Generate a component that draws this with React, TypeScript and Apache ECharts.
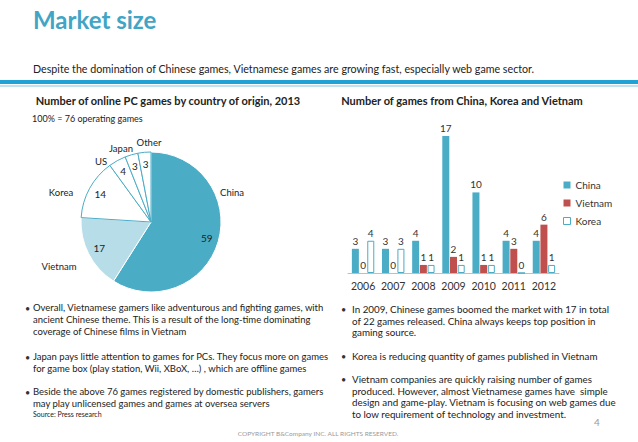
import React, { useEffect, useRef } from "react";
import * as echarts from "echarts";

const pieNames = ["China", "Vietnam", "Korea", "US", "Japan", "Other"];
const pieValues = [59, 17, 14, 4, 3, 3];

const years = ["2006", "2007", "2008", "2009", "2010", "2011", "2012"];
const chinaGames = [3, 3, 4, 17, 10, 4, 4];
const vietnamGames = [0, 0, 1, 2, 1, 3, 6];
const koreaGames = [4, 3, 1, 1, 1, 0, 1];

const titleText = "Market size";
const subtitleText =
  "Despite the domination of Chinese games, Vietnamese games are growing fast, especially web game sector.";
const pieTitle = "Number of online PC games by country of origin, 2013";
const barTitle = "Number of games from China, Korea and Vietnam";
const pieNote = "100% = 76 operating games";

const leftBullets = [
  [
    "Overall, Vietnamese gamers like adventurous and fighting games, with",
    "ancient Chinese theme. This is a result of the long-time dominating",
    "coverage of Chinese films in Vietnam",
  ],
  [
    "Japan pays little attention to games for PCs. They focus more on games",
    "for game box (play station, Wii, XBoX, …) , which are offline games",
  ],
  [
    "Beside the above 76 games registered by domestic publishers, gamers",
    "may play unlicensed games and games at oversea servers",
  ],
];
const sourceText = "Source: Press research";
const rightBullets = [
  [
    "In 2009, Chinese games boomed the market with 17 in total",
    "of 22 games released. China always keeps top position in",
    "gaming source.",
  ],
  ["Korea is reducing quantity of games published in Vietnam"],
  [
    "Vietnam companies are quickly raising number of games",
    "produced. However, almost Vietnamese games have  simple",
    "design and game-play. Vietnam is focusing on web games due",
    "to low requirement of technology and investment.",
  ],
];
const copyrightText = "COPYRIGHT B&Company INC. ALL RIGHTS RESERVED.";
const pageNumber = "4";

const FONT = "Lato, 'Open Sans', sans-serif";
const TEAL = "#4bacc6";
const RED = "#c0504d";
const LIGHT = "#b7dee8";

const PIE_CX = 151;
const PIE_CY = 222;
const PIE_R = 70;
const VALUE_LABEL_R = 58;
// name label offsets from pie centre (layout only)
const nameOffsets = [
  [81, -30],
  [-92, 44],
  [-90, -30],
  [-50, -61],
  [-30, -74],
  [-2, -80],
];
const leftParaTops = [308, 357, 392];
const rightParaTops = [309, 356, 379];

export default function App() {
  const ref = useRef<HTMLDivElement>(null);
  useEffect(() => {
    if (!ref.current) return;
    const chart = echarts.init(ref.current, undefined, { renderer: "svg" });

    const pieColors = [TEAL, LIGHT, "#fff", "#fff", "#fff", "#fff"];
    const pieBorders = ["#fff", "#fff", TEAL, TEAL, TEAL, TEAL];

    // mid angles of slices (clockwise from 12 o'clock), derived from the data
    const total = pieValues.reduce((a, b) => a + b, 0);
    const midAngles: number[] = [];
    let acc = 0;
    pieValues.forEach((v) => {
      midAngles.push(((acc + v / 2) / total) * Math.PI * 2);
      acc += v;
    });

    const graphics: any[] = [];
    graphics.push({
      type: "text",
      x: 33,
      y: 19,
      style: {
        text: titleText,
        font: `bold 24px ${FONT}`,
        fill: "#42a5c5",
        verticalAlign: "middle",
      },
    });
    graphics.push({
      type: "text",
      x: 33,
      y: 68,
      style: {
        text: subtitleText,
        font: `10.7px ${FONT}`,
        fill: "#222",
        verticalAlign: "middle",
      },
    });
    graphics.push({
      type: "rect",
      shape: { x: 0, y: 80, width: 638, height: 4 },
      style: { fill: "#1fa3d6" },
    });
    graphics.push({
      type: "rect",
      shape: { x: 0, y: 85.5, width: 638, height: 1 },
      style: { fill: "#7cc6e6" },
    });
    graphics.push({
      type: "text",
      x: 168,
      y: 100,
      style: {
        text: pieTitle,
        font: `bold 11px ${FONT}`,
        fill: "#222",
        align: "center",
        verticalAlign: "middle",
      },
    });
    graphics.push({
      type: "text",
      x: 462,
      y: 100,
      style: {
        text: barTitle,
        font: `bold 11px ${FONT}`,
        fill: "#222",
        align: "center",
        verticalAlign: "middle",
      },
    });
    graphics.push({
      type: "text",
      x: 32,
      y: 118,
      style: {
        text: pieNote,
        font: `9px ${FONT}`,
        fill: "#222",
        verticalAlign: "middle",
      },
    });
    const LH = 11.6;
    leftBullets.forEach((lines, i) => {
      graphics.push({
        type: "text",
        x: 25,
        y: leftParaTops[i],
        style: { text: "•", font: `9px ${FONT}`, fill: "#333", verticalAlign: "middle" },
      });
      graphics.push({
        type: "text",
        x: 33,
        y: leftParaTops[i] - LH / 2,
        style: {
          text: lines.join("\n"),
          font: `9.5px ${FONT}`,
          lineHeight: LH,
          fill: "#222",
          verticalAlign: "top",
        },
      });
    });
    graphics.push({
      type: "text",
      x: 33,
      y: 414,
      style: { text: sourceText, font: `7px ${FONT}`, fill: "#222", verticalAlign: "middle" },
    });
    rightBullets.forEach((lines, i) => {
      graphics.push({
        type: "text",
        x: 341,
        y: rightParaTops[i],
        style: { text: "•", font: `9px ${FONT}`, fill: "#333", verticalAlign: "middle" },
      });
      graphics.push({
        type: "text",
        x: 352,
        y: rightParaTops[i] - LH / 2,
        style: {
          text: lines.join("\n"),
          font: `9.8px ${FONT}`,
          lineHeight: LH,
          fill: "#222",
          verticalAlign: "top",
        },
      });
    });
    graphics.push({
      type: "text",
      x: 318,
      y: 433,
      style: {
        text: copyrightText,
        font: `6.5px ${FONT}`,
        fill: "#999",
        align: "center",
        verticalAlign: "middle",
      },
    });
    graphics.push({
      type: "text",
      x: 597,
      y: 422,
      style: {
        text: pageNumber,
        font: `10px ${FONT}`,
        fill: "#999",
        align: "center",
        verticalAlign: "middle",
      },
    });

    const pieData = pieNames.map((n, i) => ({
      name: n,
      value: pieValues[i],
      itemStyle: { color: pieColors[i], borderColor: pieBorders[i], borderWidth: 1 },
    }));

    const barLabel = {
      show: true,
      position: "top",
      distance: 3,
      fontSize: 10,
      color: "#333",
      fontFamily: FONT,
    };

    chart.setOption({
      animation: false,
      backgroundColor: "#fff",
      color: [TEAL, RED, TEAL],
      textStyle: { fontFamily: FONT },
      graphic: graphics,
      legend: {
        data: [
          { name: "China", icon: "rect" },
          { name: "Vietnam", icon: "rect" },
          { name: "Korea", icon: "rect", itemStyle: { color: "#fff", borderColor: TEAL, borderWidth: 1 } },
        ],
        orient: "vertical",
        left: 558,
        top: 175,
        itemWidth: 7,
        itemHeight: 7,
        itemGap: 8,
        textStyle: { fontSize: 10, color: "#333", fontFamily: FONT },
        selectedMode: false,
      },
      grid: { left: 348, width: 211, top: 136, height: 137 },
      xAxis: {
        type: "category",
        data: years,
        axisLine: { lineStyle: { color: "#bfbfbf" } },
        axisTick: { show: false },
        axisLabel: { interval: 0, fontSize: 10.5, color: "#333", margin: 7, fontFamily: FONT },
      },
      yAxis: { type: "value", min: 0, max: 17, show: false },
      series: [
        {
          type: "bar",
          name: "China",
          data: chinaGames,
          barWidth: 7,
          barGap: "10%",
          itemStyle: { color: TEAL },
          label: barLabel,
        },
        {
          type: "bar",
          name: "Vietnam",
          data: vietnamGames,
          barWidth: 7,
          barGap: "10%",
          itemStyle: { color: RED },
          label: barLabel,
        },
        {
          type: "bar",
          name: "Korea",
          data: koreaGames,
          barWidth: 7,
          barGap: "10%",
          itemStyle: { color: "#fff", borderColor: TEAL, borderWidth: 1 },
          label: barLabel,
        },
        {
          type: "pie",
          center: [PIE_CX, PIE_CY],
          radius: PIE_R,
          startAngle: 90,
          clockwise: true,
          data: pieData,
          silent: true,
          emphasis: { disabled: true },
          label: {
            show: true,
            position: "outside",
            formatter: "{b}",
            fontSize: 9.5,
            color: "#222",
            fontFamily: FONT,
            overflow: "none",
            width: 60,
          },
          labelLine: { show: false },
          labelLayout: (p: any) => {
            const o = nameOffsets[p.dataIndex];
            return {
              x: PIE_CX + o[0],
              y: PIE_CY + o[1],
              align: "center",
              verticalAlign: "middle",
            };
          },
        },
        {
          type: "pie",
          name: "values",
          center: [PIE_CX, PIE_CY],
          radius: PIE_R,
          startAngle: 90,
          clockwise: true,
          silent: true,
          emphasis: { disabled: true },
          data: pieNames.map((n, i) => ({
            name: n,
            value: pieValues[i],
            itemStyle: { color: "rgba(255,255,255,0)", borderWidth: 0 },
          })),
          label: {
            show: true,
            position: "outside",
            formatter: "{c}",
            fontSize: 10,
            color: "#222",
            fontFamily: FONT,
            overflow: "none",
          },
          labelLine: { show: false },
          labelLayout: (p: any) => {
            const a = midAngles[p.dataIndex];
            return {
              x: PIE_CX + VALUE_LABEL_R * Math.sin(a),
              y: PIE_CY - VALUE_LABEL_R * Math.cos(a),
              align: "center",
              verticalAlign: "middle",
            };
          },
        },
      ],
    });
    return () => chart.dispose();
  }, []);
  return (
    <div
      ref={ref}
      style={{ position: "absolute", left: 0, top: 0, width: 638, height: 442, background: "#fff" }}
    />
  );
}
